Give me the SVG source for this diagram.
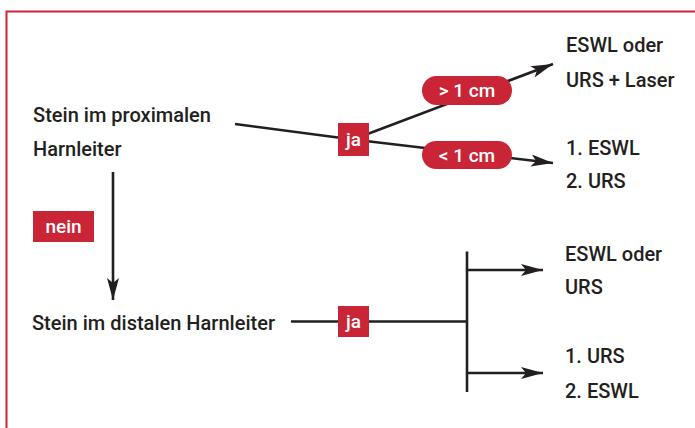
<svg xmlns="http://www.w3.org/2000/svg" width="695" height="428" viewBox="0 0 695 428">
<defs>
<marker id="ah" markerUnits="userSpaceOnUse" markerWidth="24" markerHeight="14" refX="22" refY="6" orient="auto">
<path d="M0,0 L22,6 L0,12 L5,6 Z" fill="#231f20"/>
</marker>
<style>
.t{font-family:Roboto,"Liberation Sans",Arial,sans-serif;font-weight:500;font-size:20px;fill:#231f20}
.w{font-family:Roboto,"Liberation Sans",Arial,sans-serif;font-weight:500;font-size:19px;fill:#ffffff;text-anchor:middle}
.ln{stroke:#231f20;stroke-width:2.6;fill:none}
.red{fill:#c92537}
</style>
</defs>
<rect x="0" y="0" width="695" height="428" fill="#ffffff"/>
<path d="M6.5,428 L6.5,11.5 L695,11.5" fill="none" stroke="#c92537" stroke-width="2"/>
<g id="connectors">
<line class="ln" x1="235" y1="124" x2="353" y2="139.5"/>
<line class="ln" x1="353" y1="139.5" x2="553" y2="64" marker-end="url(#ah)"/>
<line class="ln" x1="353" y1="139.5" x2="553" y2="163" marker-end="url(#ah)"/>
<line class="ln" x1="113" y1="172" x2="113" y2="300" marker-end="url(#ah)"/>
<line class="ln" x1="291" y1="321.5" x2="467" y2="321.5"/>
<line class="ln" x1="467" y1="251.5" x2="467" y2="392"/>
<line class="ln" x1="467" y1="270" x2="543" y2="270" marker-end="url(#ah)"/>
<line class="ln" x1="467" y1="373" x2="543" y2="373" marker-end="url(#ah)"/>
</g>
<g id="proximal">
<text class="t" x="33" y="122" textLength="178" lengthAdjust="spacingAndGlyphs">Stein im proximalen</text>
<text class="t" x="33" y="156">Harnleiter</text>
</g>
<g id="ja1">
<rect class="red" x="338" y="123" width="31" height="33"/>
<text class="w" x="353.5" y="146">ja</text>
</g>
<g id="gt1cm">
<rect class="red" x="422" y="76" width="90" height="29" rx="14.5"/>
<text class="w" x="467" y="97">&gt; 1 cm</text>
</g>
<g id="lt1cm">
<rect class="red" x="422" y="141" width="90" height="28" rx="14"/>
<text class="w" x="467" y="161.5">&lt; 1 cm</text>
</g>
<g id="res1">
<text class="t" x="566" y="52">ESWL oder</text>
<text class="t" x="566" y="87">URS + Laser</text>
</g>
<g id="res2">
<text class="t" x="566" y="155">1. ESWL</text>
<text class="t" x="566" y="188">2. URS</text>
</g>
<g id="nein">
<rect class="red" x="33" y="211" width="61" height="31"/>
<text class="w" x="63.5" y="233">nein</text>
</g>
<g id="distal">
<text class="t" x="32" y="330" textLength="243" lengthAdjust="spacingAndGlyphs">Stein im distalen Harnleiter</text>
</g>
<g id="ja2">
<rect class="red" x="338" y="306" width="31" height="31"/>
<text class="w" x="353.5" y="328">ja</text>
</g>
<g id="res3">
<text class="t" x="565" y="261">ESWL oder</text>
<text class="t" x="565" y="294">URS</text>
</g>
<g id="res4">
<text class="t" x="565" y="363">1. URS</text>
<text class="t" x="565" y="398">2. ESWL</text>
</g>
</svg>
